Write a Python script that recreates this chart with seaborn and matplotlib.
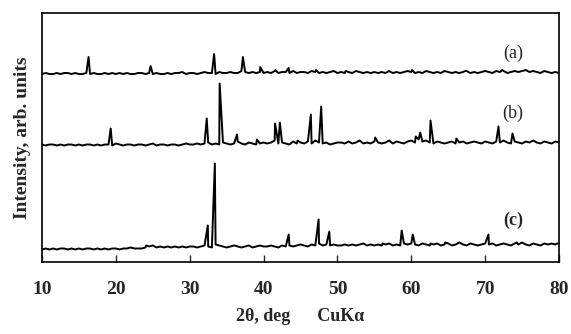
import numpy as np
import pandas as pd
import matplotlib
matplotlib.use('Agg')
import matplotlib.pyplot as plt
import seaborn as sns

# 2-theta sampling for the baseline readings (deg)
grid = np.arange(10, 80.01, 0.5)

# baseline readings above each pattern's zero (arb. units), one per grid point
noise_a = [1, 2, 1, 1, 2, 1, 2, 2, 1, 2, 1, 1, 2, 1, 2, 1, 1, 2, 1, 2, 1,
           2, 1, 2, 1, 1, 2, 2, 1, 2, 1, 2, 1, 1, 2, 1, 2, 2, 3, 1, 2,
           2, 1, 2, 3, 2, 2, 1, 3, 2, 2, 3, 2, 2, 4, 3, 2, 3, 2, 3, 2,
           3, 2, 4, 2, 3, 3, 2, 4, 2, 3, 3, 2, 4, 3, 2, 3, 2, 3, 4, 2,
           3, 2, 3, 2, 4, 3, 2, 3, 2, 3, 2, 3, 2, 4, 2, 3, 2, 3, 4, 3,
           2, 3, 2, 4, 3, 2, 3, 2, 4, 3, 2, 3, 2, 3, 4, 2, 3, 2, 3, 4,
           3, 2, 4, 3, 4, 2, 3, 4, 3, 4, 5, 3, 4, 3, 2, 4, 3, 2, 3, 2]
noise_b = [2, 1, 2, 2, 1, 2, 1, 2, 2, 1, 2, 1, 2, 2, 1, 2, 1, 2, 2, 1, 3,
           2, 1, 2, 2, 1, 2, 2, 1, 2, 3, 1, 2, 2, 1, 2, 2, 1, 2, 3, 2,
           2, 3, 2, 3, 4, 2, 3, 2, 4, 3, 2, 3, 5, 3, 2, 4, 3, 2, 3, 4,
           3, 4, 6, 3, 4, 3, 2, 5, 3, 4, 3, 5, 3, 6, 4, 3, 4, 2, 3, 4,
           4, 3, 5, 3, 4, 6, 3, 4, 3, 5, 4, 3, 4, 6, 3, 5, 4, 3, 5, 6,
           4, 7, 5, 6, 4, 3, 5, 4, 3, 4, 5, 3, 4, 5, 3, 4, 5, 4, 3, 5,
           4, 3, 5, 4, 6, 4, 3, 5, 4, 3, 5, 4, 6, 4, 3, 5, 4, 3, 5, 4]
noise_c = [1, 2, 1, 2, 1, 2, 2, 1, 2, 1, 2, 1, 2, 2, 1, 2, 1, 2, 1, 2, 2,
           1, 2, 2, 3, 2, 2, 2, 3, 4, 5, 3, 4, 3, 4, 3, 4, 3, 4, 3, 4,
           4, 3, 4, 5, 4, 3, 6, 5, 4, 3, 4, 5, 4, 3, 4, 5, 3, 4, 5, 4,
           4, 5, 4, 3, 5, 4, 5, 4, 5, 6, 5, 4, 6, 5, 7, 5, 6, 5, 6, 5,
           5, 6, 5, 6, 5, 6, 7, 5, 6, 5, 6, 5, 6, 7, 5, 6, 5, 7, 6, 7,
           6, 5, 7, 6, 5, 6, 7, 5, 6, 7, 5, 6, 8, 6, 5, 7, 6, 5, 6, 7,
           6, 7, 5, 6, 7, 6, 5, 7, 6, 8, 6, 5, 7, 6, 5, 7, 6, 7, 6, 7]

# reflections: position (deg) and height above baseline (arb. units)
peaks_a_pos = [16.3, 24.7, 33.3, 37.2, 39.55, 41.6, 43.4, 47.1, 51.1, 60.1, 67.3, 72.3]
peaks_a_h = [18, 9, 21, 18, 8, 5, 7, 5, 4, 5, 4, 5]
peaks_b_pos = [19.3, 32.3, 34.05, 36.4, 39.1, 41.55, 42.2, 44.6, 46.4, 47.8,
               55.1, 60.6, 61.2, 62.6, 66.1, 71.8, 73.7]
peaks_b_h = [18, 28, 63, 12, 7, 23, 24, 6, 32, 40, 9, 10, 14, 26, 8, 20, 13]
peaks_c_pos = [24.1, 32.45, 33.4, 36.1, 43.4, 47.45, 48.9, 56.1, 58.7, 60.2,
               62.6, 64.6, 70.45, 74.3, 79.7]
peaks_c_h = [5, 25, 87, 5, 16, 31, 19, 7, 20, 16, 7, 8, 16, 8, 7]

offsets = {'(a)': 187, '(b)': 115.5, '(c)': 11.5}


def pattern(noise, pos, h, name):
    x = np.concatenate([grid, pos])
    y = np.concatenate([noise, h]) + offsets[name]
    order = np.argsort(x)
    return pd.DataFrame({'two_theta': x[order], 'intensity': y[order], 'sample': name})


df = pd.concat([pattern(noise_a, peaks_a_pos, peaks_a_h, '(a)'),
                pattern(noise_b, peaks_b_pos, peaks_b_h, '(b)'),
                pattern(noise_c, peaks_c_pos, peaks_c_h, '(c)')], ignore_index=True)

sns.set_style('ticks')
plt.rcParams['font.family'] = ['Liberation Serif', 'DejaVu Serif']

fig = plt.figure(figsize=(5.71, 3.34), dpi=100)
ax = fig.add_axes([0.0736, 0.2156, 0.9054, 0.7454])

sns.lineplot(data=df, x='two_theta', y='intensity', hue='sample', units='sample',
             estimator=None, sort=False, palette=['black'] * 3, linewidth=1.4,
             legend=False, ax=ax)

ax.set_xlim(10, 80)
ax.set_ylim(0, 249)
ax.set_xticks(range(10, 81, 10))
ax.set_yticks([])
ax.tick_params(axis='x', direction='in', length=5, width=1, pad=14)
for lbl in ax.get_xticklabels():
    lbl.set_fontsize(14)
    lbl.set_fontweight('bold')
for s in ax.spines.values():
    s.set_linewidth(1.2)
    s.set_color('black')

ax.set_xlabel('2θ, deg      CuKα', fontsize=13, fontweight='bold', labelpad=7)
ax.set_ylabel('Intensity, arb. units', fontsize=14, fontweight='bold', labelpad=8)

ax.text(73.8, 209, '(a)', fontsize=13, ha='center', va='center')
ax.text(73.8, 149, '(b)', fontsize=13, ha='center', va='center')
ax.text(73.8, 42, '(c)', fontsize=13, fontweight='bold', ha='center', va='center')

fig.savefig('out.png', dpi=100)
